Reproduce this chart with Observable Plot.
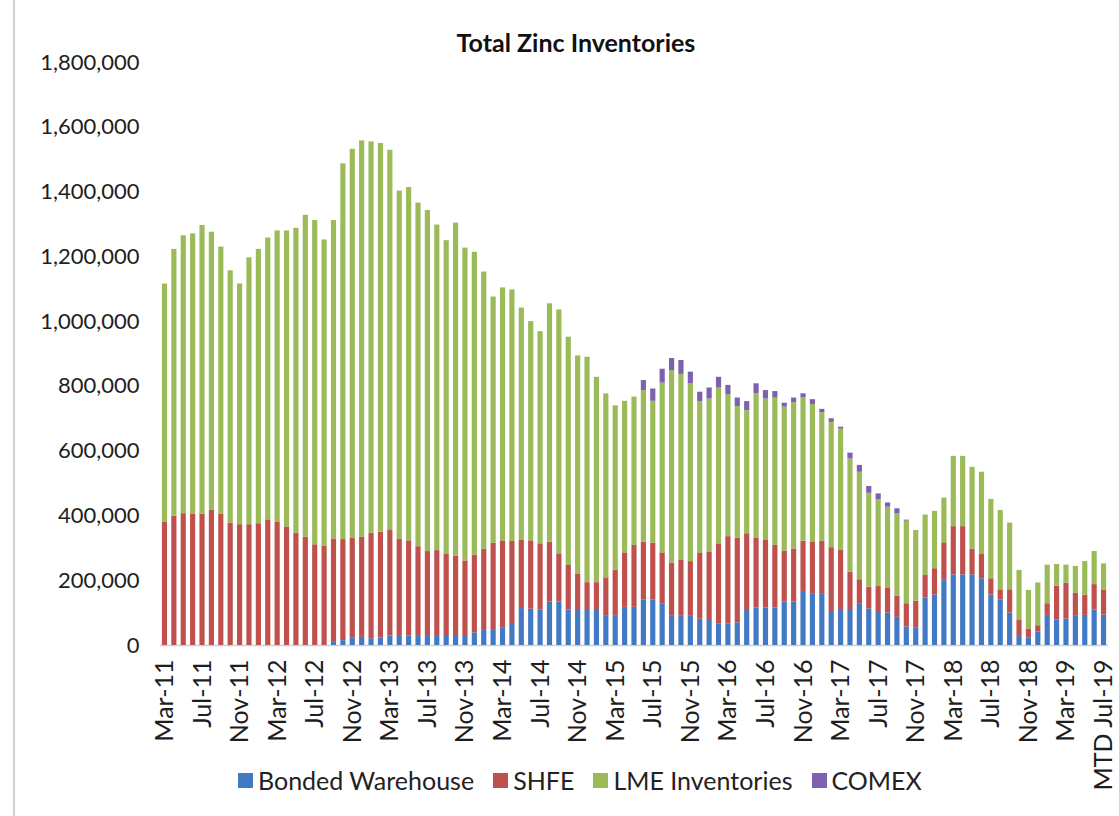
<!DOCTYPE html>
<html>
<head>
<meta charset="utf-8">
<script src="https://cdn.jsdelivr.net/npm/d3@7"></script>
<script src="https://cdn.jsdelivr.net/npm/@observablehq/plot@0.6"></script>
<style>
  body { margin: 0; background: #fff; font-family: Lato, "Open Sans", sans-serif; }
  #wrap { position: relative; width: 1119px; height: 816px; overflow: hidden; background: #fff; }
  #frame { position: absolute; left: 13px; top: 0; width: 2px; height: 816px; background: #cfcfcf; }
  #title { position: absolute; top: 28px; left: 0; width: 1152px; text-align: center; font-weight: bold; font-size: 25px; line-height: 28px; color: #111; }
  #chart { position: absolute; left: 0; top: 0; }
  #legend { position: absolute; top: 765px; left: 238px; display: flex; gap: 19px; font-size: 25px; line-height: 30px; color: #222; }
  .item { display: flex; align-items: center; gap: 5px; }
  .sw { width: 15px; height: 15px; display: inline-block; }
</style>
</head>
<body>
<div id="wrap">
  <div id="frame"></div>
  <div id="chart"></div>
  <div id="title">Total Zinc Inventories</div>
  <div id="legend"></div>
</div>
<script>
const months = [
  "Mar-11","Apr-11","May-11","Jun-11","Jul-11","Aug-11","Sep-11","Oct-11","Nov-11","Dec-11",
  "Jan-12","Feb-12","Mar-12","Apr-12","May-12","Jun-12","Jul-12","Aug-12","Sep-12","Oct-12","Nov-12","Dec-12",
  "Jan-13","Feb-13","Mar-13","Apr-13","May-13","Jun-13","Jul-13","Aug-13","Sep-13","Oct-13","Nov-13","Dec-13",
  "Jan-14","Feb-14","Mar-14","Apr-14","May-14","Jun-14","Jul-14","Aug-14","Sep-14","Oct-14","Nov-14","Dec-14",
  "Jan-15","Feb-15","Mar-15","Apr-15","May-15","Jun-15","Jul-15","Aug-15","Sep-15","Oct-15","Nov-15","Dec-15",
  "Jan-16","Feb-16","Mar-16","Apr-16","May-16","Jun-16","Jul-16","Aug-16","Sep-16","Oct-16","Nov-16","Dec-16",
  "Jan-17","Feb-17","Mar-17","Apr-17","May-17","Jun-17","Jul-17","Aug-17","Sep-17","Oct-17","Nov-17","Dec-17",
  "Jan-18","Feb-18","Mar-18","Apr-18","May-18","Jun-18","Jul-18","Aug-18","Sep-18","Oct-18","Nov-18","Dec-18",
  "Jan-19","Feb-19","Mar-19","Apr-19","May-19","Jun-19","Jul-19"
];

// tonnes
const bonded = [
  0,0,0,0,0,0,0,0,0,0,
  0,0,0,0,0,0,0,0,12000,15000,24000,25000,
  21000,23000,29000,28000,29000,28000,28000,28000,28000,28000,28000,39000,
  49000,49000,53000,68000,114000,112000,110000,134000,134000,110000,108000,108000,
  108000,90000,90000,118000,118000,141000,140000,129000,90000,90000,90000,81000,
  77000,67000,67000,70000,108000,116000,116000,116000,134000,134000,167000,160000,
  160000,105000,108000,108000,127000,113000,105000,100000,87000,57000,53000,147000,
  156000,203000,218000,218000,218000,206000,156000,141000,100000,28000,24000,41000,
  93000,79000,82000,90000,93000,110000,94000
];
const shfe = [
  380000,399000,407000,406000,406000,417000,406000,378000,373000,373000,
  376000,388000,380000,366000,347000,334000,311000,306000,317000,312000,308000,310000,
  326000,327000,326000,301000,294000,277000,262000,265000,253000,248000,233000,240000,
  248000,267000,270000,253000,212000,211000,204000,185000,149000,137000,113000,86000,
  86000,119000,142000,168000,191000,178000,176000,157000,164000,174000,169000,205000,
  212000,247000,269000,262000,237000,216000,210000,193000,157000,164000,155000,158000,
  162000,197000,187000,118000,76000,67000,77000,78000,65000,72000,84000,69000,
  81000,114000,149000,149000,79000,77000,50000,31000,72000,51000,27000,20000,
  36000,104000,110000,71000,63000,78000,76000
];
const lme = [
  736000,824000,858000,865000,891000,859000,824000,779000,743000,824000,
  847000,870000,900000,914000,941000,994000,1001000,946000,983000,1160000,1200000,1223000,
  1208000,1200000,1174000,1074000,1091000,1061000,1053000,1005000,969000,1028000,966000,935000,
  856000,760000,781000,777000,716000,677000,655000,736000,753000,705000,673000,696000,
  634000,568000,508000,468000,458000,468000,438000,524000,595000,573000,549000,467000,
  472000,481000,439000,406000,380000,445000,435000,455000,445000,452000,443000,426000,
  397000,387000,373000,350000,332000,290000,268000,249000,254000,255000,218000,187000,
  177000,138000,217000,217000,253000,252000,245000,245000,206000,153000,119000,132000,
  119000,67000,56000,83000,103000,102000,82000
];
const comex = [
  0,0,0,0,0,0,0,0,0,0,
  0,0,0,0,0,0,0,0,0,0,0,0,
  0,0,0,0,0,0,0,0,0,0,0,0,
  0,0,0,0,0,0,0,0,0,0,0,0,
  0,0,0,0,0,31000,38000,43000,37000,43000,36000,29000,
  34000,33000,28000,26000,28000,31000,26000,20000,12000,14000,12000,15000,
  10000,11000,6000,18000,21000,21000,18000,13000,16000,3000,0,0,
  0,0,0,0,0,0,0,0,0,0,0,0,
  0,0,0,0,0,0,0
];

const seriesNames = ["Bonded Warehouse", "SHFE", "LME Inventories", "COMEX"];
const seriesColors = ["#4279c4", "#c0504d", "#9bbb59", "#7f5fb0"];
const yTicks = [0, 200000, 400000, 600000, 800000, 1000000, 1200000, 1400000, 1600000, 1800000];
const xTicks = ["Mar-11","Jul-11","Nov-11","Mar-12","Jul-12","Nov-12","Mar-13","Jul-13","Nov-13",
  "Mar-14","Jul-14","Nov-14","Mar-15","Jul-15","Nov-15","Mar-16","Jul-16","Nov-16",
  "Mar-17","Jul-17","Nov-17","Mar-18","Jul-18","Nov-18","Mar-19","Jul-19"];
const xTickLabels = ["Mar-11","Jul-11","Nov-11","Mar-12","Jul-12","Nov-12","Mar-13","Jul-13","Nov-13",
  "Mar-14","Jul-14","Nov-14","Mar-15","Jul-15","Nov-15","Mar-16","Jul-16","Nov-16",
  "Mar-17","Jul-17","Nov-17","Mar-18","Jul-18","Nov-18","Mar-19","MTD Jul-19"];

const seriesValues = [bonded, shfe, lme, comex];
const data = months.flatMap((m, i) =>
  seriesNames.map((s, k) => ({month: m, series: s, value: seriesValues[k][i]}))
);

const chart = Plot.plot({
  width: 1119,
  height: 816,
  marginLeft: 160,
  marginRight: 11,
  marginTop: 62,
  marginBottom: 171,
  style: {fontFamily: "Lato, 'Open Sans', sans-serif", background: "transparent", color: "#1e1e1e", overflow: "visible"},
  x: {domain: months, paddingInner: 0.45, paddingOuter: 0.2, label: null},
  y: {domain: [0, 1800000], label: null},
  color: {domain: seriesNames, range: seriesColors},
  marks: [
    Plot.ruleY([0], {stroke: "#d0d0d0", strokeWidth: 1.5}),
    Plot.barY(data, {x: "month", y: "value", fill: "series"}),
    Plot.axisY({ticks: yTicks, tickSize: 0, tickPadding: 21, tickFormat: d3.format(","), label: null, fontSize: 22}),
    Plot.axisX({ticks: xTicks, tickSize: 0, tickPadding: 14, tickRotate: -90,
      tickFormat: d => xTickLabels[xTicks.indexOf(d)], label: null, fontSize: 25})
  ]
});
document.getElementById("chart").appendChild(chart);

const legend = document.getElementById("legend");
seriesNames.forEach((s, k) => {
  const it = document.createElement("div");
  it.className = "item";
  const sw = document.createElement("span");
  sw.className = "sw";
  sw.style.background = seriesColors[k];
  const tx = document.createElement("span");
  tx.textContent = s;
  it.appendChild(sw);
  it.appendChild(tx);
  legend.appendChild(it);
});
</script>
</body>
</html>
